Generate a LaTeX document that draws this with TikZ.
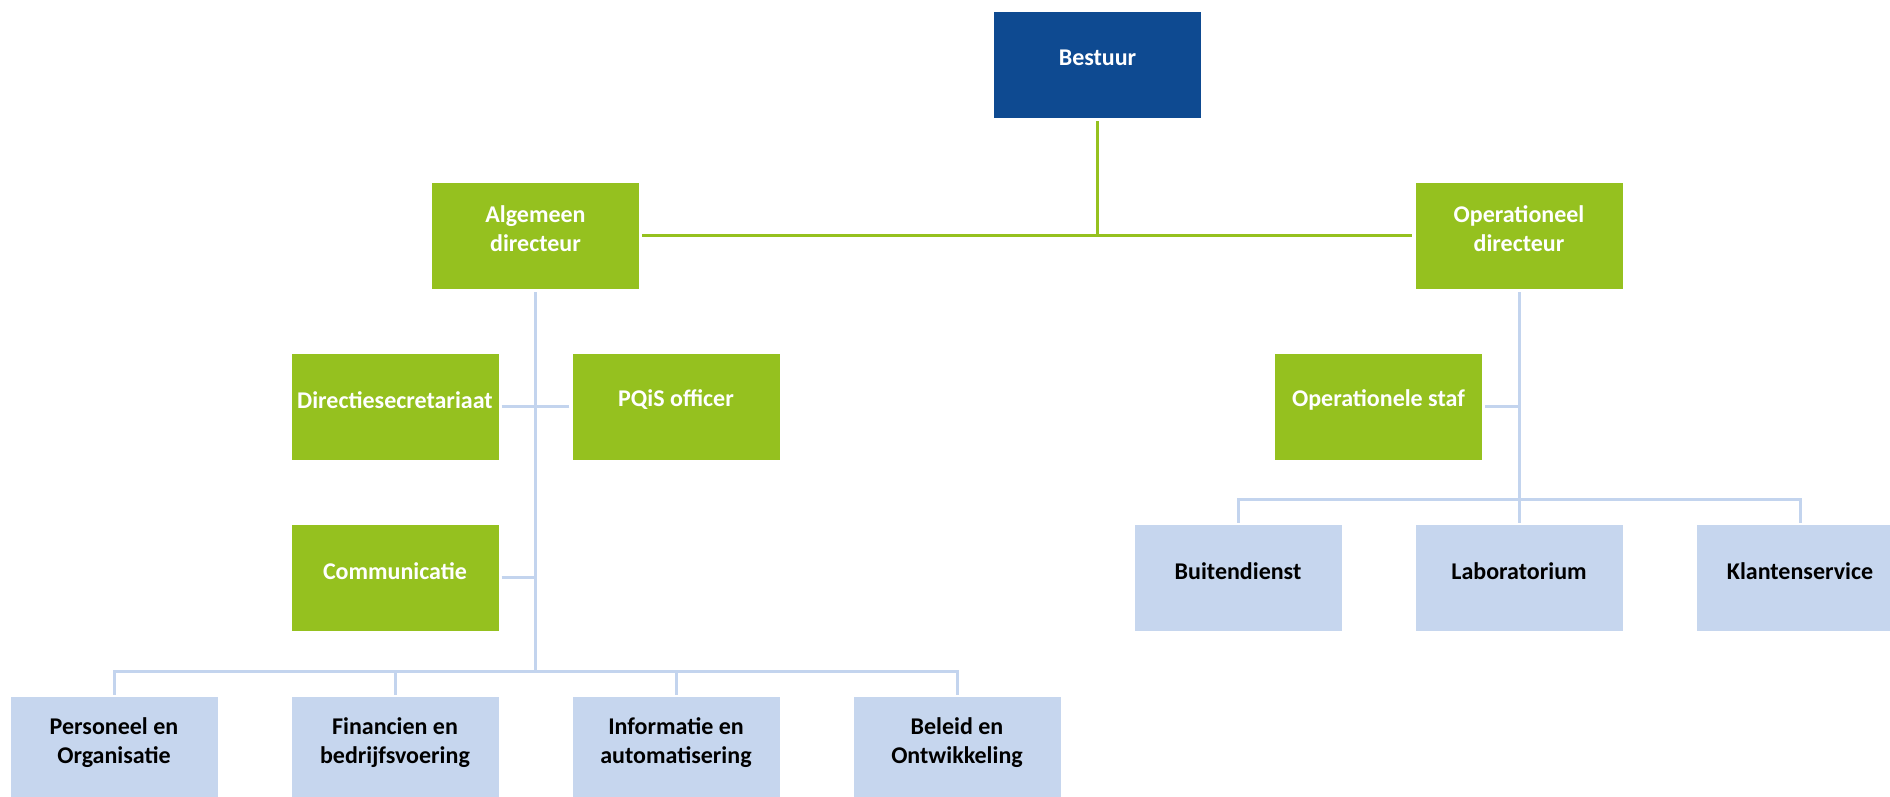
\documentclass[tikz,border=0pt]{standalone}
\usepackage{fontspec}
\setmainfont{Carlito}
\usetikzlibrary{shapes}
\definecolor{boardblue}{HTML}{0E4A91}
\definecolor{staffgreen}{HTML}{95C11F}
\definecolor{deptblue}{HTML}{C6D6EE}
\definecolor{lineblue}{HTML}{C3D4EE}

\begin{document}
\begin{tikzpicture}[x=1pt,y=1pt,
  box/.style={shape=rectangle,minimum width=207pt,minimum height=106pt,inner sep=0pt},
  boardbox/.style={box,fill=boardblue},
  dirbox/.style={box,fill=staffgreen},
  deptbox/.style={box,fill=deptblue},
  wtxt/.style={align=center,text=white,font=\fontsize{24}{29}\selectfont\bfseries,yshift=7pt},
  btxt/.style={wtxt,text=black},
  greenline/.style={draw=staffgreen,line width=3pt,shorten <=3pt,shorten >=3pt},
  blueline/.style={draw=lineblue,line width=3pt,shorten <=3pt,shorten >=2pt},
  sideline/.style={blueline,shorten >=0pt}]
\useasboundingbox (0,0) rectangle (1890,797);
\clip (0,0) rectangle (1890,797);

\node[boardbox,label={[wtxt]center:Bestuur}] (0) at (1097.5,732) {};
\node[dirbox,label={[wtxt]center:{Algemeen\\directeur}}] (1) at (535.5,561) {};
\node[dirbox,label={[wtxt]center:{Operationeel\\directeur}}] (2) at (1519,561) {};
\node[dirbox,label={[wtxt]center:Directiesecretariaat}] (3) at (395,390) {};
\node[dirbox,label={[wtxt]center:PQiS officer}] (4) at (676,390) {};
\node[dirbox,label={[wtxt]center:Communicatie}] (5) at (395,219) {};
\node[dirbox,label={[wtxt]center:Operationele staf}] (6) at (1378.5,390) {};
\node[deptbox,label={[btxt]center:Buitendienst}] (7) at (1238,219) {};
\node[deptbox,label={[btxt]center:Laboratorium}] (8) at (1519,219) {};
\node[deptbox,label={[btxt]center:Klantenservice}] (9) at (1800,219) {};
\node[deptbox,label={[btxt]center:{Personeel en\\Organisatie}}] (10) at (114,47) {};
\node[deptbox,label={[btxt]center:{Financien en\\bedrijfsvoering}}] (11) at (395,47) {};
\node[deptbox,label={[btxt]center:{Informatie en\\automatisering}}] (12) at (676,47) {};
\node[deptbox,label={[btxt]center:{Beleid en\\Ontwikkeling}}] (13) at (957,47) {};

% bestuur naar directie
\draw[greenline,shorten >=0pt] (0.south) -- (0 |- 1.east);
\draw[greenline] (1.east) -- (2.east -| 2.west);

% algemeen directeur
\draw[sideline] (3.east) -- (1 |- 3.east);
\draw[sideline] (4.west) -- (1 |- 4.west);
\draw[sideline] (5.east) -- (1 |- 5.east);
\draw[blueline] (1.south) -- ++(0,-382) -| (10.north);
\draw[blueline] (1.south) -- ++(0,-382) -| (11.north);
\draw[blueline] (1.south) -- ++(0,-382) -| (12.north);
\draw[blueline] (1.south) -- ++(0,-382) -| (13.north);

% operationeel directeur
\draw[sideline] (6.east) -- (2 |- 6.east);
\draw[blueline] (2.south) -- ++(0,-210) -| (7.north);
\draw[blueline] (2.south) -- ++(0,-210) -| (8.north);
\draw[blueline] (2.south) -- ++(0,-210) -| (9.north);
\end{tikzpicture}
\end{document}
